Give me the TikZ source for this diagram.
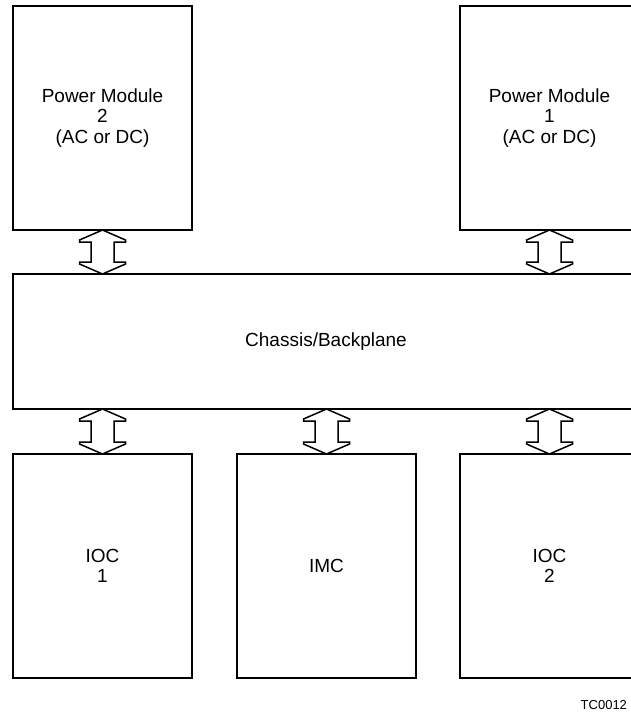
\documentclass[tikz,border=0pt]{standalone}
\usepackage{fontspec}
\setmainfont{Liberation Sans}
\usetikzlibrary{calc}

\tikzset{
  unit/.style={draw, line width=1.6pt, minimum width=179pt, minimum height=224pt,
    inner sep=0pt, outer sep=0pt, align=center, font=\fontsize{19}{20.5}\selectfont},
  bus/.style={draw, line width=1.5pt, line join=miter},
}

\begin{document}
\begin{tikzpicture}[x=1pt, y=-1pt]
\useasboundingbox (0,0) rectangle (631,721);
\clip (0,0) rectangle (631,721);
\node[unit] (PM_2) at (102.5,118) {Power Module\\2\\(AC or DC)};
\node[unit] (PM_1) at (549.5,118) {Power Module\\1\\(AC or DC)};
\node[unit, minimum width=626pt, minimum height=135pt] (CB) at (326,341.5) {Chassis/Backplane};
\node[unit] (IOC_1) at (102.5,566) {IOC\\1};
\node[unit] (IMC) at (326.5,566) {IMC};
\node[unit] (IOC_2) at (549.5,566) {IOC\\2};
\node[anchor=east, font=\fontsize{13}{15}\selectfont] (TC) at (630.5,705) {TC0012};
% tips on the backplane
\coordinate (T_2) at (PM_2.south |- CB.north);
\coordinate (T_1) at (PM_1.south |- CB.north);
\coordinate (B_1) at (IOC_1.north |- CB.south);
\coordinate (B_0) at (IMC.north |- CB.south);
\coordinate (B_2) at (IOC_2.north |- CB.south);
% double block arrows
\foreach \t/\b in {PM_2.south/T_2, PM_1.south/T_1, B_1/IOC_1.north, B_0/IMC.north, B_2/IOC_2.north}
  \draw[bus] (\t) -- ($(\t)+(-23,10)$) -- ($(\t)+(-23,12)$) -- ($(\t)+(-11.5,12)$)
    -- ($(\b)+(-11.5,-12)$) -- ($(\b)+(-23,-12)$) -- ($(\b)+(-23,-10)$) -- (\b)
    -- ($(\b)+(23,-10)$) -- ($(\b)+(23,-12)$) -- ($(\b)+(11.5,-12)$)
    -- ($(\t)+(11.5,12)$) -- ($(\t)+(23,12)$) -- ($(\t)+(23,10)$) -- cycle;
\end{tikzpicture}
\end{document}
